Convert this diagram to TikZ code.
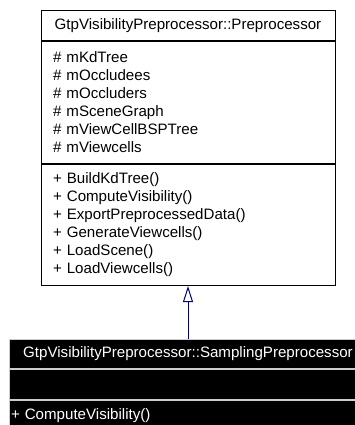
\documentclass[tikz,border=0pt]{standalone}
\usepackage{fontspec}
\setmainfont{Liberation Sans}
\usetikzlibrary{arrows.meta,positioning}

\begin{document}
\begin{tikzpicture}[
  x=1pt,y=-1pt,
  font=\fontsize{15.1}{18}\selectfont,
  part/.style={draw=black, line width=1pt, fill=white, minimum width=294pt, inner xsep=12pt, inner ysep=0pt, anchor=north},
  title/.style={part, align=center, minimum height=30pt},
  members/.style={part, align=left, text width=270pt},
  sub/.style={draw=gray!40, line width=1pt, fill=black, text=white, minimum width=358pt, inner xsep=2pt, inner ysep=0pt, anchor=north},
  inherit/.style={-{Triangle[open, length=16pt, width=10pt]}, line width=1pt, blue!45!black}
]
\useasboundingbox (0,0) rectangle (355,425);
\clip (0,0) rectangle (355,425);

% base class: name, attributes, operations
\node[title] (base) at (188,10) {GtpVisibilityPreprocessor::Preprocessor};
\node[members, minimum height=122pt] (baseattr) at (base.south) {\# mKdTree\\\# mOccludees\\\# mOccluders\\\# mSceneGraph\\\# mViewCellBSPTree\\\# mViewcells};
\node[members, minimum height=121pt] (basemeth) at (baseattr.south) {+ BuildKdTree()\\+ ComputeVisibility()\\+ ExportPreprocessedData()\\+ GenerateViewcells()\\+ LoadScene()\\+ LoadViewcells()};

% derived class, highlighted
\node[sub, minimum height=29pt, align=center] (derived) at (188,339) {GtpVisibilityPreprocessor::SamplingPreprocessor};
\node[sub, minimum height=30pt] (derivedattr) at (derived.south) {};
\node[sub, minimum height=30pt, text width=354pt, align=left] (derivedmeth) at (derivedattr.south) {+ ComputeVisibility()};

\draw[inherit] (derived.north) -- (basemeth.south);
\end{tikzpicture}
\end{document}
